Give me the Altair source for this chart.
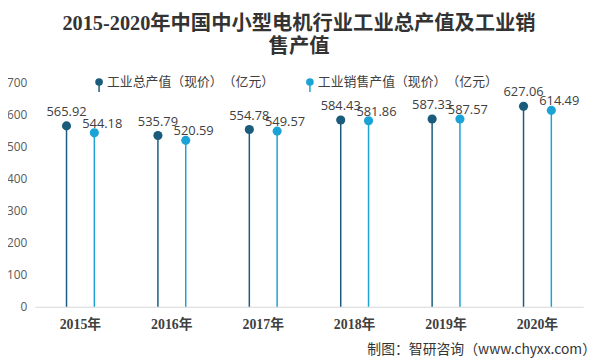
import altair as alt
import pandas as pd

years = ["2015年", "2016年", "2017年", "2018年", "2019年", "2020年"]
series = ["工业总产值（现价）（亿元）", "工业销售产值（现价）（亿元）"]
output_value = [565.92, 535.79, 554.78, 584.43, 587.33, 627.06]
sales_value = [544.18, 520.59, 549.57, 581.86, 587.57, 614.49]
y_ticks = [0, 100, 200, 300, 400, 500, 600, 700]
colors = ["#1b5b7b", "#1aa3d4"]
title_lines = ["2015-2020年中国中小型电机行业工业总产值及工业销", "售产值"]
source_note = "制图：智研咨询（www.chyxx.com）"

rows = []
for i, yr in enumerate(years):
    rows.append({"year": yr, "series": series[0], "value": output_value[i],
                 "label": f"{output_value[i]:.2f}"})
    rows.append({"year": yr, "series": series[1], "value": sales_value[i],
                 "label": f"{sales_value[i]:.2f}"})
df = pd.DataFrame(rows)

SANS = "Open Sans, Noto Sans CJK SC, sans-serif"
CJK = "Noto Sans CJK SC, sans-serif"
SERIF = "Liberation Serif, Noto Sans CJK SC, serif"

x = alt.X("year:N", sort=years,
          scale=alt.Scale(paddingInner=0, paddingOuter=0),
          axis=alt.Axis(title=None, labelAngle=0, ticks=False, domainColor="#d9d9d9",
                        domainWidth=1, labelFont=SERIF, labelFontWeight="bold",
                        labelFontSize=14, labelColor="#404040", labelPadding=11))
xo = alt.XOffset("series:N", sort=series,
                 scale=alt.Scale(domain=series, paddingInner=0, paddingOuter=0.643))
y = alt.Y("value:Q", scale=alt.Scale(domain=[0, 700], nice=False),
          axis=alt.Axis(values=y_ticks, title=None, grid=False, domain=False, ticks=False,
                        labelColor="#595959", labelFontSize=12, labelFont=SANS,
                        labelPadding=8))
color = alt.Color("series:N", sort=series,
                  scale=alt.Scale(domain=series, range=colors), legend=None)

base = alt.Chart(df)
rules = base.mark_rule(strokeWidth=1.5).encode(x=x, xOffset=xo, y=y, y2=alt.datum(0), color=color)
points = base.mark_circle(size=85, opacity=1).encode(x=x, xOffset=xo, y=y, color=color)
lab_dark = base.transform_filter(alt.datum.series == series[0]).mark_text(
    fontSize=13, font=SANS, color="#404040", dy=-14, dx=0
).encode(x=x, xOffset=xo, y=y, text="label:N")
lab_light = base.transform_filter(alt.datum.series == series[1]).mark_text(
    fontSize=13, font=SANS, color="#404040", dy=-9, dx=8
).encode(x=x, xOffset=xo, y=y, text="label:N")

one = alt.Data(values=[{"a": 1}])

def legend_item(px, name, col):
    shown = name.replace("）（", "）\u200b（")
    c = alt.Chart(one).mark_circle(size=60, opacity=1, color=col).encode(
        x=alt.value(px), y=alt.value(-1))
    r = alt.Chart(one).mark_rule(strokeWidth=1.5, color=col).encode(
        x=alt.value(px), y=alt.value(-1), y2=alt.value(9))
    t = alt.Chart(one).mark_text(align="left", baseline="middle", fontSize=13, font=CJK,
                                 color="#404040").encode(
        x=alt.value(px + 8), y=alt.value(-1), text=alt.value(shown))
    return [r, c, t]

legend_layers = legend_item(65, series[0], colors[0]) + legend_item(278, series[1], colors[1])

title1 = alt.Chart(one).mark_text(align="center", baseline="middle", fontSize=20.5,
                                  fontWeight="bold", font=SERIF, color="#333333").encode(
    x=alt.value(267), y=alt.value(-60), text=alt.value(title_lines[0]))
title2 = alt.Chart(one).mark_text(align="center", baseline="middle", fontSize=20.5,
                                  fontWeight="bold", font=SERIF, color="#333333").encode(
    x=alt.value(267), y=alt.value(-36), text=alt.value(title_lines[1]))
note = alt.Chart(one).mark_text(align="right", baseline="middle", fontSize=14,
                                font=CJK, color="#333333").encode(
    x=alt.value(567), y=alt.value(270), text=alt.value(source_note))

chart = alt.layer(rules, points, lab_dark, lab_light, *legend_layers, title1, title2, note).properties(
    width=554, height=226,
    padding={"left": 27, "top": 74, "right": 13, "bottom": 52},
    autosize=alt.AutoSizeParams(type="none"),
    background="white",
).configure_view(stroke=None)

chart.save("out.html", embed_options={"renderer": "svg", "actions": False})
